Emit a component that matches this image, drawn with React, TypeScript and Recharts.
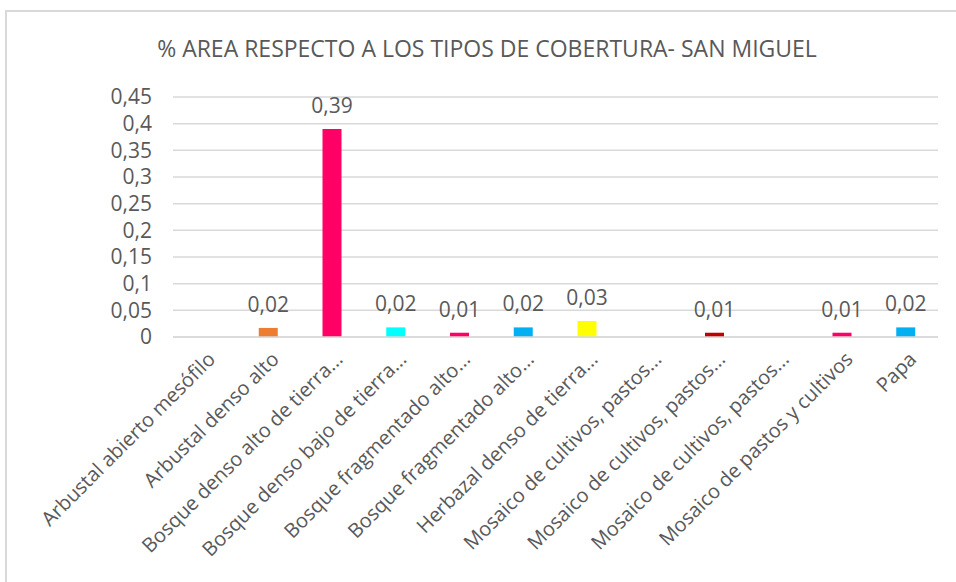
import { Bar, BarChart, CartesianGrid, Cell, LabelList, XAxis, YAxis } from "recharts";

const categories = [
  "Arbustal abierto mesófilo",
  "Arbustal denso alto",
  "Bosque denso alto de tierra...",
  "Bosque denso bajo de tierra...",
  "Bosque fragmentado alto...",
  "Bosque fragmentado alto...",
  "Herbazal denso de tierra...",
  "Mosaico de cultivos, pastos...",
  "Mosaico de cultivos, pastos...",
  "Mosaico de cultivos, pastos...",
  "Mosaico de pastos y cultivos",
  "Papa",
];

const values: (number | null)[] = [
  null, 0.017, 0.39, 0.018, 0.008, 0.018, 0.03, null, 0.008, null, 0.008, 0.018,
];

const barColors = [
  "#ED7D31",
  "#ED7D31",
  "#FF0066",
  "#00FFFF",
  "#FF0066",
  "#00B0F0",
  "#FFFF00",
  "#C00000",
  "#C00000",
  "#C00000",
  "#FF0066",
  "#00B0F0",
];

const yTicks = [0, 0.05, 0.1, 0.15, 0.2, 0.25, 0.3, 0.35, 0.4, 0.45];

const data = categories.map((name, i) => ({ name, value: values[i] }));

const FONT = "'Open Sans', sans-serif";
const TEXT = "#595959";

const fmt = (v: any) =>
  v === null || v === undefined ? "" : String(Number(v.toFixed(2))).replace(".", ",");

const XTick = ({ x, y, payload }: any) => (
  <g transform={`translate(${x + 8},${y + 12})`}>
    <text
      transform="rotate(-45)"
      textAnchor="end"
      fill={TEXT}
      fontSize={20}
      fontFamily={FONT}
      dy={5}
    >
      {payload.value}
    </text>
  </g>
);

const App = () => {
  return (
    <div
      style={{
        position: "absolute",
        left: 0,
        top: 0,
        width: 956,
        height: 582,
        overflow: "hidden",
        background: "#fff",
      }}
    >
      <div
        style={{
          position: "absolute",
          left: 5,
          top: 10,
          width: 980,
          height: 600,
          border: "2px solid #d9d9d9",
        }}
      />
      <div
        style={{
          position: "absolute",
          left: 0,
          top: 32,
          width: 956,
          textAlign: "center",
          fontFamily: FONT,
          fontSize: 23,
          color: TEXT,
          paddingLeft: 18,
          boxSizing: "border-box",
          whiteSpace: "nowrap",
        }}
      >
        % AREA RESPECTO A LOS TIPOS DE COBERTURA- SAN MIGUEL
      </div>
      <div style={{ position: "absolute", left: 0, top: 0 }}>
        <BarChart
          width={956}
          height={582}
          data={data}
          margin={{ top: 97, right: 18, left: 0, bottom: 0 }}
        >
          <CartesianGrid vertical={false} stroke="#d9d9d9" strokeWidth={1.5} />
          <XAxis
            dataKey="name"
            height={245}
            interval={0}
            tick={<XTick />}
            tickLine={false}
            axisLine={{ stroke: "#d9d9d9", strokeWidth: 1.5 }}
          />
          <YAxis
            width={173}
            domain={[0, 0.45]}
            ticks={yTicks}
            interval={0}
            tickFormatter={(v: number) => String(v).replace(".", ",")}
            tick={{ fill: TEXT, fontSize: 21, fontFamily: FONT }}
            tickLine={false}
            axisLine={false}
            tickMargin={15}
          />
          <Bar dataKey="value" barSize={19} isAnimationActive={false}>
            {data.map((d, i) => (
              <Cell key={`cell-${i}`} fill={barColors[i]} />
            ))}
            <LabelList
              dataKey="value"
              position="top"
              offset={16}
              formatter={fmt}
              fill={TEXT}
              fontSize={21}
              fontFamily={FONT}
            />
          </Bar>
        </BarChart>
      </div>
    </div>
  );
};

export default App;
